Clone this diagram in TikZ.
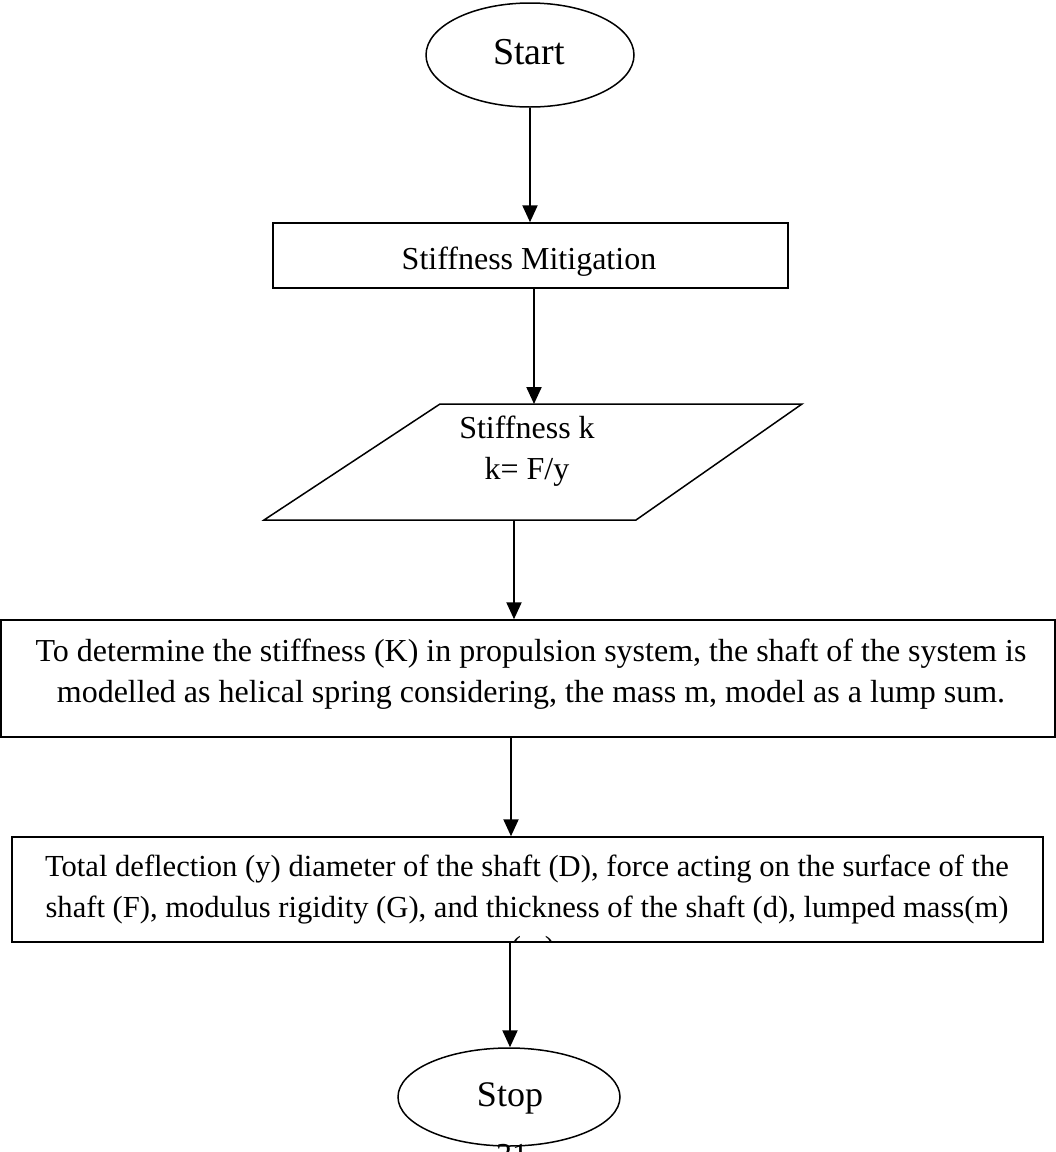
\documentclass[tikz,border=0pt]{standalone}
\usepackage{fontspec}
\setmainfont{Liberation Serif}
\usetikzlibrary{shapes.geometric,arrows.meta}
\begin{document}
\begin{tikzpicture}[x=1pt,y=-1pt,
  boxline/.style={draw, line width=1.5pt, inner sep=0pt},
  arr/.style={line width=2.2pt, -{Triangle[width=15pt,length=17pt]}},
  txt/.style={font=\fontsize{32}{40}\selectfont, inner sep=0pt, anchor=base},
  txtb/.style={font=\fontsize{30.6}{40}\selectfont, inner sep=0pt, anchor=base},
  term/.style={ellipse, draw, line width=1.5pt, inner sep=0pt}
]
\useasboundingbox (0,0) rectangle (1056,1152);
\clip (0,0) rectangle (1056,1152);

% Start
\node[term, minimum width=208pt, minimum height=104pt] (start) at (530,55) {};
\node[txt, font=\fontsize{38}{40}\selectfont] (startt) at (529,64) {Start};

% Stiffness Mitigation
\node[boxline, minimum width=515pt, minimum height=65pt] (sm) at (530.5,255.5) {};
\node[txt] (smt) at (529,269) {Stiffness Mitigation};

% Parallelogram
\coordinate (pTL) at (440,404);
\coordinate (pTR) at (802,404);
\coordinate (pBR) at (636,520);
\coordinate (pBL) at (264,520);
\draw[line width=1.5pt, line join=miter] (pTL) -- (pTR) -- (pBR) -- (pBL) -- cycle;
\node[txt] (pt1) at (527,438) {Stiffness k};
\node[txt] (pt2) at (527,479) {k= F/y};

% Rect 1
\node[boxline, minimum width=1054pt, minimum height=117pt] (r1) at (528,678.5) {};
\node[txt] (r1a) at (531,661) {To determine the stiffness (K) in propulsion system, the shaft of the system is};
\node[txt] (r1b) at (531,702) {modelled as helical spring considering, the mass m, model as a lump sum.};

% Rect 2
\node[boxline, minimum width=1031pt, minimum height=105pt] (r2) at (527.5,889.5) {};
\begin{scope}
\clip (r2.north west) rectangle (r2.south east);
\node[txtb] (r2a) at (527,876) {Total deflection (y) diameter of the shaft (D), force acting on the surface of the};
\node[txtb] (r2b) at (527,917) {shaft (F), modulus rigidity (G), and thickness of the shaft (d), lumped mass(m)};
\node[txtb] (r2c) at (533,957) {(m)};
\end{scope}

% Stop
\node[term, minimum width=222pt, minimum height=98pt] (stop) at (509,1097) {};
\node[txt, font=\fontsize{36}{40}\selectfont] (stopt) at (510,1106) {Stop};

% page number
\node[txt] (pg) at (512,1165) {31};

% connector x positions
\coordinate (x1) at (530,0);
\coordinate (x2) at (534,0);
\coordinate (x3) at (514,0);
\coordinate (x4) at (511,0);
\coordinate (x5) at (510,0);

\draw[arr] (x1 |- start.south) -- (x1 |- sm.north);
\draw[arr] (x2 |- sm.south) -- (x2 |- pTL);
\draw[arr] (x3 |- pBL) -- (x3 |- r1.north);
\draw[arr] (x4 |- r1.south) -- (x4 |- r2.north);
\draw[arr] (x5 |- r2.south) -- (x5 |- stop.north);
\end{tikzpicture}
\end{document}
